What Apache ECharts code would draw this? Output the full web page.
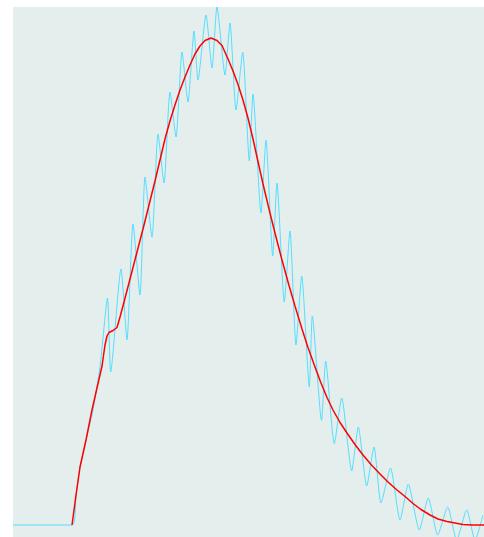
<!DOCTYPE html>
<html lang="en">
<head>
    <meta charset="UTF-8">
    <title>Signal</title>
    <script type="text/javascript" src="https://cdn.jsdelivr.net/npm/echarts@6/dist/echarts.min.js"></script>
    <style>
        html, body { margin: 0; padding: 0; background: #fff; }
    </style>
</head>
<body>
<div id="main" style="width: 484px;height:537px;"></div>

<script type="text/javascript">
    // raw signal (cyan)
    var rawX = [0, 12.53, 13.38, 14.23, 15.50, 16.99, 18.47, 20.06, 20.74, 22.93, 24.20, 25.48, 26.96, 28.03, 29.51, 30.79, 32.06,
        33.33, 34.61, 35.88, 37.15, 38.43, 39.28, 40.98, 42.25, 43.31, 45.01, 46.07, 47.35, 48.77, 50.17,
        50.96, 52.65, 53.72, 55.14, 56.05, 57.60, 58.81, 60.08, 61.30, 62.91, 63.55, 65.50, 66.39, 68.22,
        69.79, 71.91, 73.31, 75.10, 76.65, 78.13, 80.15, 82.17, 83.93, 86.26, 88.17, 90.17, 92.29, 94.20,
        96.33, 98.09, 99.79];
    var rawY = [0, 0, 0.06, 0.116, 0.17, 0.23, 0.316, 0.454, 0.306, 0.512, 0.37, 0.602, 0.46, 0.696, 0.576, 0.782, 0.684,
        0.866, 0.776, 0.946, 0.846, 0.988, 0.89, 1.02, 0.914, 1.036, 0.9, 1.004, 0.83, 0.946, 0.728,
        0.862, 0.624, 0.77, 0.538, 0.684, 0.446, 0.588, 0.36, 0.498, 0.276, 0.418, 0.209, 0.328, 0.163,
        0.254, 0.108, 0.196, 0.078, 0.156, 0.044, 0.114, 0.01, 0.082, -0.01, 0.054, -0.02, 0.036, -0.03,
        0.03, -0.03, 0.02];

    // filtered signal (red)
    var fitX = [12.53, 13.38, 14.23, 15.50, 16.77, 17.83, 18.90, 19.53, 19.96, 20.38,
        21.23, 22.08, 22.72, 23.57, 24.84, 26.33, 27.60, 29.09, 30.15, 31.21,
        32.27, 33.33, 34.39, 35.46, 36.52, 37.58, 38.64, 39.70, 40.76, 42.04,
        43.31, 44.37, 45.65, 46.71, 47.77, 48.83, 49.89, 50.96, 51.80, 53.08,
        54.56, 55.84, 57.11, 58.60, 59.87, 61.36, 62.63, 64.12, 65.39, 66.67,
        67.94, 69.43, 70.91, 72.61, 74.31, 76.01, 77.92, 79.62, 81.53, 83.23,
        84.93, 86.62, 88.54, 90.23, 92.14, 93.84, 95.54, 97.45, 100];
    var fitY = [0, 0.06, 0.116, 0.17, 0.23, 0.274, 0.318, 0.36, 0.378, 0.385,
        0.389, 0.395, 0.416, 0.446, 0.492, 0.546, 0.592, 0.648, 0.688, 0.73,
        0.772, 0.808, 0.84, 0.87, 0.896, 0.92, 0.942, 0.958, 0.969, 0.974,
        0.969, 0.959, 0.932, 0.908, 0.881, 0.85, 0.814, 0.772, 0.736, 0.682,
        0.624, 0.576, 0.53, 0.479, 0.438, 0.392, 0.355, 0.316, 0.284, 0.255,
        0.23, 0.205, 0.184, 0.161, 0.14, 0.121, 0.102, 0.086, 0.070, 0.057,
        0.043, 0.031, 0.02, 0.012, 0.007, 0.004, 0.001, 0, 0];

    function pairs(xs, ys) {
        var out = [];
        for (var i = 0; i < xs.length; i++) {
            out.push([xs[i], ys[i]]);
        }
        return out;
    }

    var myChart = echarts.init(document.getElementById('main'));
    var option = {
        animation: false,
        grid: {
            left: 13, right: 0, top: 7, bottom: 0,
            show: true,
            backgroundColor: '#e4eeec',
            borderWidth: 0
        },
        xAxis: { type: 'value', min: 0, max: 100, show: false },
        yAxis: { type: 'value', min: -0.024, max: 1.036, show: false },
        series: [{
            type: 'line',
            data: pairs(rawX, rawY),
            showSymbol: false,
            smooth: 0.2,
            lineStyle: { color: '#55ddff', width: 1 }
        }, {
            type: 'line',
            data: pairs(fitX, fitY),
            showSymbol: false,
            lineStyle: { color: '#ff0000', width: 1.5 }
        }]
    };
    myChart.setOption(option);
</script>
</body>
</html>
